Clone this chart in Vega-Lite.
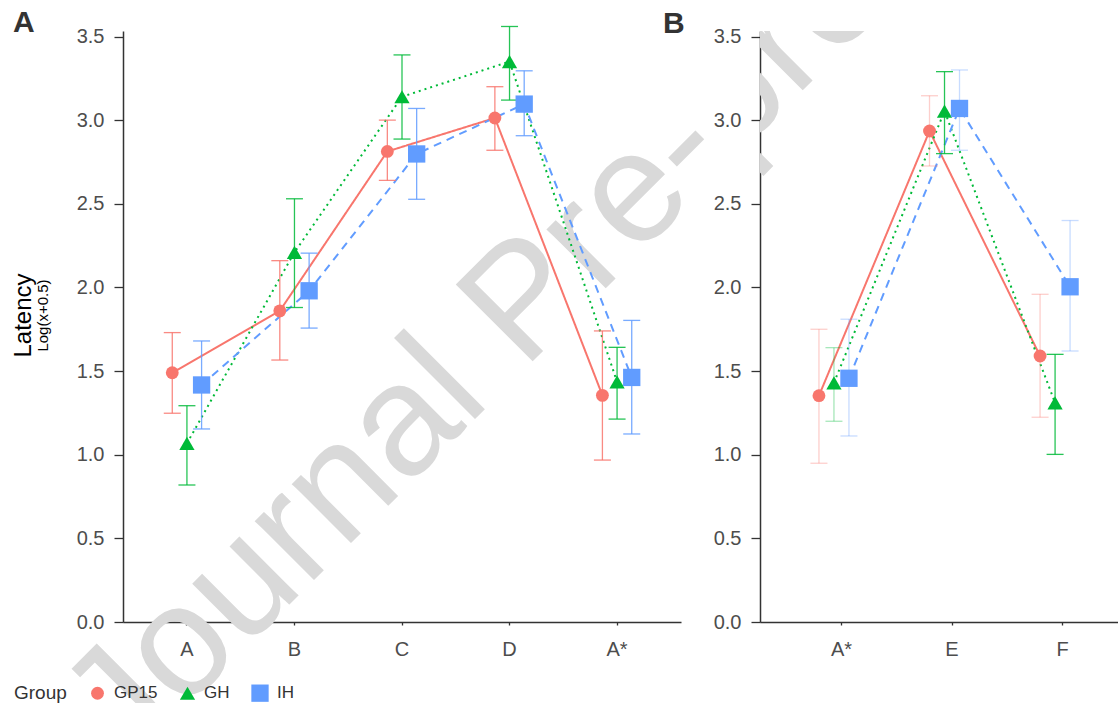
{
  "$schema": "https://vega.github.io/schema/vega-lite/v6.json",
  "padding": {"left": 12, "top": 7, "right": 0, "bottom": 0},
  "background": "white",
  "config": {
    "font": "Liberation Sans",
    "view": {"stroke": null},
    "axis": {"domainColor": "#333333", "domainWidth": 1.5, "tickColor": "#333333", "tickWidth": 1.3, "labelColor": "#4d4d4d", "labelFontSize": 20, "grid": false, "zindex": 1},
    "axisY": {"tickSize": 9, "labelPadding": 10},
    "axisX": {"tickSize": 3, "labelPadding": 14, "labelAngle": 0},
    "legend": {"orient": "none", "direction": "horizontal", "titleOrient": "left", "titleFontSize": 19, "titleFontWeight": "normal", "titleColor": "#333333", "labelFontSize": 17, "labelColor": "#333333", "labelOffset": 8, "columnPadding": 21, "titlePadding": 22, "symbolStrokeWidth": 0, "symbolOpacity": 1}
  },
  "datasets": {
    "main": [
      {"panel": "A", "cond": "A", "group": "GP15", "mean": 1.49, "lo": 1.248, "hi": 1.73, "emph": "yes"},
      {"panel": "A", "cond": "A", "group": "GH", "mean": 1.068, "lo": 0.819, "hi": 1.293, "emph": "yes"},
      {"panel": "A", "cond": "A", "group": "IH", "mean": 1.417, "lo": 1.154, "hi": 1.68, "emph": "yes"},
      {"panel": "A", "cond": "B", "group": "GP15", "mean": 1.86, "lo": 1.566, "hi": 2.16, "emph": "yes"},
      {"panel": "A", "cond": "B", "group": "GH", "mean": 2.21, "lo": 1.88, "hi": 2.53, "emph": "yes"},
      {"panel": "A", "cond": "B", "group": "IH", "mean": 1.98, "lo": 1.757, "hi": 2.205, "emph": "yes"},
      {"panel": "A", "cond": "C", "group": "GP15", "mean": 2.813, "lo": 2.64, "hi": 3.0, "emph": "yes"},
      {"panel": "A", "cond": "C", "group": "GH", "mean": 3.14, "lo": 2.887, "hi": 3.39, "emph": "yes"},
      {"panel": "A", "cond": "C", "group": "IH", "mean": 2.798, "lo": 2.527, "hi": 3.07, "emph": "yes"},
      {"panel": "A", "cond": "D", "group": "GP15", "mean": 3.013, "lo": 2.82, "hi": 3.2, "emph": "yes"},
      {"panel": "A", "cond": "D", "group": "GH", "mean": 3.35, "lo": 3.12, "hi": 3.56, "emph": "yes"},
      {"panel": "A", "cond": "D", "group": "IH", "mean": 3.096, "lo": 2.907, "hi": 3.295, "emph": "yes"},
      {"panel": "A", "cond": "A*", "group": "GP15", "mean": 1.355, "lo": 0.968, "hi": 1.74, "emph": "yes"},
      {"panel": "A", "cond": "A*", "group": "GH", "mean": 1.436, "lo": 1.213, "hi": 1.642, "emph": "yes"},
      {"panel": "A", "cond": "A*", "group": "IH", "mean": 1.462, "lo": 1.124, "hi": 1.803, "emph": "yes"},
      {"panel": "B", "cond": "A*", "group": "GP15", "mean": 1.353, "lo": 0.949, "hi": 1.75, "emph": "no"},
      {"panel": "B", "cond": "A*", "group": "GH", "mean": 1.43, "lo": 1.2, "hi": 1.64, "emph": "no"},
      {"panel": "B", "cond": "A*", "group": "IH", "mean": 1.457, "lo": 1.112, "hi": 1.81, "emph": "no"},
      {"panel": "B", "cond": "E", "group": "GP15", "mean": 2.935, "lo": 2.726, "hi": 3.146, "emph": "no"},
      {"panel": "B", "cond": "E", "group": "GH", "mean": 3.054, "lo": 2.8, "hi": 3.29, "emph": "yes"},
      {"panel": "B", "cond": "E", "group": "IH", "mean": 3.07, "lo": 2.82, "hi": 3.3, "emph": "no"},
      {"panel": "B", "cond": "F", "group": "GP15", "mean": 1.59, "lo": 1.224, "hi": 1.959, "emph": "no"},
      {"panel": "B", "cond": "F", "group": "GH", "mean": 1.31, "lo": 1.002, "hi": 1.6, "emph": "yes"},
      {"panel": "B", "cond": "F", "group": "IH", "mean": 2.004, "lo": 1.62, "hi": 2.4, "emph": "no"}
    ],
    "wmA": [{"cond": "C", "mean": 0.777, "label": "Journal Pre-"}],
    "wmB": [{"cond": "A*", "mean": 3.365, "label": "proof"}]
  },
  "title": {"text": "Latency", "subtitle": "Log(x+0.5)", "orient": "left", "frame": "group", "anchor": "middle", "fontSize": 24, "fontWeight": "normal", "color": "#000000", "subtitleFontSize": 15, "subtitleColor": "#000000", "subtitlePadding": 0, "offset": -38, "dx": 11},
  "spacing": 79,
  "bounds": "flush",
  "resolve": {"scale": {"x": "independent", "y": "independent", "xOffset": "independent", "color": "shared", "shape": "shared", "size": "shared", "strokeDash": "shared", "opacity": "shared"}},
  "hconcat": [
    {
      "width": 558,
      "height": 591,
      "title": {"text": "A", "anchor": "start", "frame": "group", "dx": -110, "fontSize": 30, "fontWeight": "bold", "color": "#333333", "baseline": "alphabetic", "offset": -36},
      "encoding": {
        "x": {"field": "cond", "type": "nominal", "sort": ["A", "B", "C", "D", "A*"], "scale": {"type": "band", "domain": ["A", "B", "C", "D", "A*"], "paddingInner": 0.591, "paddingOuter": 0.39}, "axis": {"title": null}},
        "y": {"field": "mean", "type": "quantitative", "scale": {"domain": [0, 3.533], "nice": false}, "axis": {"title": null, "values": [0, 0.5, 1, 1.5, 2, 2.5, 3, 3.5], "format": ".1f"}}
      },
      "layer": [
        {
          "data": {"name": "wmA"},
          "mark": {"type": "text", "angle": 315, "fontSize": 158, "color": "#d9d9d9", "align": "center", "baseline": "alphabetic", "dx": 40},
          "encoding": {"text": {"field": "label"}}
        },
        {
          "data": {"name": "main"},
          "transform": [{"filter": "datum.panel === 'A'"}],
          "mark": {"type": "line", "strokeWidth": 2},
          "encoding": {
            "xOffset": {"field": "group", "type": "nominal", "sort": ["GP15", "GH", "IH"], "scale": {"domain": ["GP15", "GH", "IH"], "paddingInner": 0, "paddingOuter": 0}},
            "color": {"field": "group", "type": "nominal", "title": "Group", "scale": {"domain": ["GP15", "GH", "IH"], "range": ["#F8766D", "#00BA38", "#619CFF"]}, "legend": {"legendX": -109, "legendY": 653}},
            "strokeDash": {"field": "group", "type": "nominal", "scale": {"domain": ["GP15", "GH", "IH"], "range": [[1, 0], [2, 4], [8, 6]]}, "legend": null}
          }
        },
        {
          "data": {"name": "main"},
          "transform": [{"filter": "datum.panel === 'A'"}],
          "mark": {"type": "rule", "strokeWidth": 1.3},
          "encoding": {
            "xOffset": {"field": "group", "type": "nominal", "sort": ["GP15", "GH", "IH"], "scale": {"domain": ["GP15", "GH", "IH"], "paddingInner": 0, "paddingOuter": 0}},
            "y": {"field": "lo", "type": "quantitative", "title": null, "scale": {"domain": [0, 3.533], "nice": false}},
            "y2": {"field": "hi"},
            "color": {"field": "group", "type": "nominal", "title": "Group"},
            "opacity": {"field": "emph", "type": "nominal", "scale": {"domain": ["yes", "no"], "range": [0.85, 0.35]}, "legend": null}
          }
        },
        {
          "data": {"name": "main"},
          "transform": [{"filter": "datum.panel === 'A'"}],
          "mark": {"type": "tick", "size": 17, "thickness": 1.3},
          "encoding": {
            "xOffset": {"field": "group", "type": "nominal", "sort": ["GP15", "GH", "IH"], "scale": {"domain": ["GP15", "GH", "IH"], "paddingInner": 0, "paddingOuter": 0}},
            "y": {"field": "lo", "type": "quantitative", "title": null, "scale": {"domain": [0, 3.533], "nice": false}},
            "color": {"field": "group", "type": "nominal", "title": "Group"},
            "opacity": {"field": "emph", "type": "nominal", "legend": null}
          }
        },
        {
          "data": {"name": "main"},
          "transform": [{"filter": "datum.panel === 'A'"}],
          "mark": {"type": "tick", "size": 17, "thickness": 1.3},
          "encoding": {
            "xOffset": {"field": "group", "type": "nominal", "sort": ["GP15", "GH", "IH"], "scale": {"domain": ["GP15", "GH", "IH"], "paddingInner": 0, "paddingOuter": 0}},
            "y": {"field": "hi", "type": "quantitative", "title": null, "scale": {"domain": [0, 3.533], "nice": false}},
            "color": {"field": "group", "type": "nominal", "title": "Group"},
            "opacity": {"field": "emph", "type": "nominal", "legend": null}
          }
        },
        {
          "data": {"name": "main"},
          "transform": [{"filter": "datum.panel === 'A'"}],
          "mark": {"type": "point", "filled": true, "opacity": 1, "strokeWidth": 0},
          "encoding": {
            "xOffset": {"field": "group", "type": "nominal", "sort": ["GP15", "GH", "IH"], "scale": {"domain": ["GP15", "GH", "IH"], "paddingInner": 0, "paddingOuter": 0}},
            "color": {"field": "group", "type": "nominal", "title": "Group"},
            "shape": {"field": "group", "type": "nominal", "title": "Group", "scale": {"domain": ["GP15", "GH", "IH"], "range": ["circle", "triangle-up", "square"]}},
            "size": {"field": "group", "type": "nominal", "title": "Group", "scale": {"domain": ["GP15", "GH", "IH"], "range": [165, 300, 200]}}
          }
        }
      ]
    },
    {
      "width": 359,
      "height": 591,
      "title": {"text": "B", "anchor": "start", "frame": "group", "dx": -97, "fontSize": 30, "fontWeight": "bold", "color": "#333333", "baseline": "alphabetic", "offset": -36},
      "encoding": {
        "x": {"field": "cond", "type": "nominal", "sort": ["A*", "E", "F"], "scale": {"type": "band", "domain": ["A*", "E", "F"], "paddingInner": 0.593, "paddingOuter": 0.42, "align": 0.554}, "axis": {"title": null, "tickOffset": 7}},
        "y": {"field": "mean", "type": "quantitative", "scale": {"domain": [0, 3.533], "nice": false}, "axis": {"title": null, "values": [0, 0.5, 1, 1.5, 2, 2.5, 3, 3.5], "format": ".1f"}}
      },
      "layer": [
        {
          "data": {"name": "wmB"},
          "mark": {"type": "text", "clip": true, "angle": 315, "fontSize": 158, "color": "#d9d9d9", "align": "left", "baseline": "alphabetic", "dx": -143},
          "encoding": {"text": {"field": "label"}}
        },
        {
          "data": {"name": "main"},
          "transform": [{"filter": "datum.panel === 'B'"}],
          "mark": {"type": "line", "strokeWidth": 2},
          "encoding": {
            "xOffset": {"field": "group", "type": "nominal", "sort": ["GP15", "GH", "IH"], "scale": {"domain": ["GP15", "GH", "IH"], "paddingInner": 0, "paddingOuter": 0}},
            "color": {"field": "group", "type": "nominal", "title": "Group"},
            "strokeDash": {"field": "group", "type": "nominal", "legend": null}
          }
        },
        {
          "data": {"name": "main"},
          "transform": [{"filter": "datum.panel === 'B'"}],
          "mark": {"type": "rule", "strokeWidth": 1.3},
          "encoding": {
            "xOffset": {"field": "group", "type": "nominal", "sort": ["GP15", "GH", "IH"], "scale": {"domain": ["GP15", "GH", "IH"], "paddingInner": 0, "paddingOuter": 0}},
            "color": {"field": "group", "type": "nominal", "title": "Group"},
            "y": {"field": "lo", "type": "quantitative", "title": null, "scale": {"domain": [0, 3.533], "nice": false}},
            "y2": {"field": "hi"},
            "opacity": {"field": "emph", "type": "nominal", "legend": null}
          }
        },
        {
          "data": {"name": "main"},
          "transform": [{"filter": "datum.panel === 'B'"}],
          "mark": {"type": "tick", "size": 17, "thickness": 1.3},
          "encoding": {
            "xOffset": {"field": "group", "type": "nominal", "sort": ["GP15", "GH", "IH"], "scale": {"domain": ["GP15", "GH", "IH"], "paddingInner": 0, "paddingOuter": 0}},
            "color": {"field": "group", "type": "nominal", "title": "Group"},
            "y": {"field": "lo", "type": "quantitative", "title": null, "scale": {"domain": [0, 3.533], "nice": false}},
            "opacity": {"field": "emph", "type": "nominal", "legend": null}
          }
        },
        {
          "data": {"name": "main"},
          "transform": [{"filter": "datum.panel === 'B'"}],
          "mark": {"type": "tick", "size": 17, "thickness": 1.3},
          "encoding": {
            "xOffset": {"field": "group", "type": "nominal", "sort": ["GP15", "GH", "IH"], "scale": {"domain": ["GP15", "GH", "IH"], "paddingInner": 0, "paddingOuter": 0}},
            "color": {"field": "group", "type": "nominal", "title": "Group"},
            "y": {"field": "hi", "type": "quantitative", "title": null, "scale": {"domain": [0, 3.533], "nice": false}},
            "opacity": {"field": "emph", "type": "nominal", "legend": null}
          }
        },
        {
          "data": {"name": "main"},
          "transform": [{"filter": "datum.panel === 'B'"}],
          "mark": {"type": "point", "filled": true, "opacity": 1, "strokeWidth": 0},
          "encoding": {
            "xOffset": {"field": "group", "type": "nominal", "sort": ["GP15", "GH", "IH"], "scale": {"domain": ["GP15", "GH", "IH"], "paddingInner": 0, "paddingOuter": 0}},
            "color": {"field": "group", "type": "nominal", "title": "Group"},
            "shape": {"field": "group", "type": "nominal", "title": "Group"},
            "size": {"field": "group", "type": "nominal", "title": "Group"}
          }
        }
      ]
    }
  ]
}
